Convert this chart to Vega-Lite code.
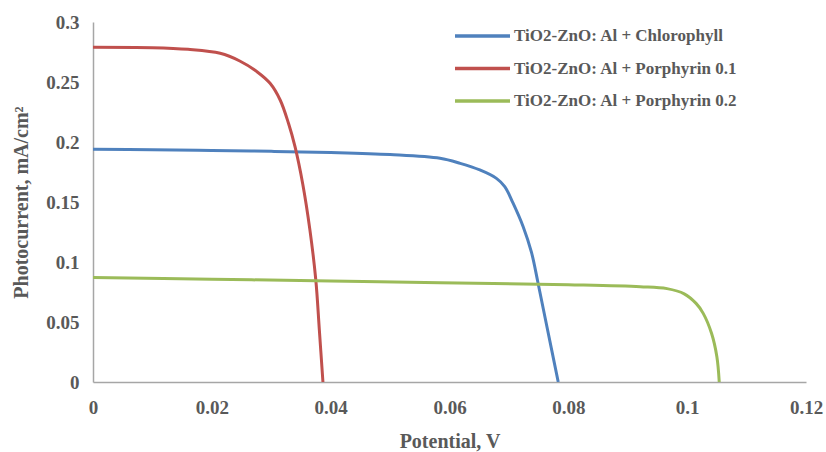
{
  "$schema": "https://vega.github.io/schema/vega-lite/v6.json",
  "width": 713,
  "height": 360,
  "autosize": "none",
  "padding": {"left": 93, "top": 22, "right": 20, "bottom": 70},
  "background": "white",
  "config": {"view": {"stroke": null}},
  "data": {
    "values": [
      {"series": "TiO2-ZnO: Al + Chlorophyll", "v": 0, "i": 0.194},
      {"series": "TiO2-ZnO: Al + Chlorophyll", "v": 0.01, "i": 0.1936},
      {"series": "TiO2-ZnO: Al + Chlorophyll", "v": 0.02, "i": 0.193},
      {"series": "TiO2-ZnO: Al + Chlorophyll", "v": 0.03, "i": 0.1922},
      {"series": "TiO2-ZnO: Al + Chlorophyll", "v": 0.04, "i": 0.1912},
      {"series": "TiO2-ZnO: Al + Chlorophyll", "v": 0.05, "i": 0.1895},
      {"series": "TiO2-ZnO: Al + Chlorophyll", "v": 0.0584, "i": 0.1864},
      {"series": "TiO2-ZnO: Al + Chlorophyll", "v": 0.0618, "i": 0.1822},
      {"series": "TiO2-ZnO: Al + Chlorophyll", "v": 0.0651, "i": 0.1767},
      {"series": "TiO2-ZnO: Al + Chlorophyll", "v": 0.0679, "i": 0.1697},
      {"series": "TiO2-ZnO: Al + Chlorophyll", "v": 0.0693, "i": 0.1628},
      {"series": "TiO2-ZnO: Al + Chlorophyll", "v": 0.0707, "i": 0.149},
      {"series": "TiO2-ZnO: Al + Chlorophyll", "v": 0.0724, "i": 0.1294},
      {"series": "TiO2-ZnO: Al + Chlorophyll", "v": 0.0738, "i": 0.108},
      {"series": "TiO2-ZnO: Al + Chlorophyll", "v": 0.0749, "i": 0.0825},
      {"series": "TiO2-ZnO: Al + Chlorophyll", "v": 0.0764, "i": 0.046},
      {"series": "TiO2-ZnO: Al + Chlorophyll", "v": 0.0783, "i": 0},
      {"series": "TiO2-ZnO: Al + Porphyrin 0.1", "v": 0, "i": 0.279},
      {"series": "TiO2-ZnO: Al + Porphyrin 0.1", "v": 0.01, "i": 0.2786},
      {"series": "TiO2-ZnO: Al + Porphyrin 0.1", "v": 0.016, "i": 0.2772},
      {"series": "TiO2-ZnO: Al + Porphyrin 0.1", "v": 0.0214, "i": 0.2739},
      {"series": "TiO2-ZnO: Al + Porphyrin 0.1", "v": 0.0247, "i": 0.2675},
      {"series": "TiO2-ZnO: Al + Porphyrin 0.1", "v": 0.0276, "i": 0.2586},
      {"series": "TiO2-ZnO: Al + Porphyrin 0.1", "v": 0.0298, "i": 0.2489},
      {"series": "TiO2-ZnO: Al + Porphyrin 0.1", "v": 0.0315, "i": 0.235},
      {"series": "TiO2-ZnO: Al + Porphyrin 0.1", "v": 0.0329, "i": 0.2156},
      {"series": "TiO2-ZnO: Al + Porphyrin 0.1", "v": 0.034, "i": 0.1961},
      {"series": "TiO2-ZnO: Al + Porphyrin 0.1", "v": 0.0353, "i": 0.165},
      {"series": "TiO2-ZnO: Al + Porphyrin 0.1", "v": 0.0365, "i": 0.127},
      {"series": "TiO2-ZnO: Al + Porphyrin 0.1", "v": 0.0375, "i": 0.085},
      {"series": "TiO2-ZnO: Al + Porphyrin 0.1", "v": 0.0381, "i": 0.043},
      {"series": "TiO2-ZnO: Al + Porphyrin 0.1", "v": 0.0387, "i": 0},
      {"series": "TiO2-ZnO: Al + Porphyrin 0.2", "v": 0, "i": 0.087},
      {"series": "TiO2-ZnO: Al + Porphyrin 0.2", "v": 0.02, "i": 0.0856},
      {"series": "TiO2-ZnO: Al + Porphyrin 0.2", "v": 0.04, "i": 0.0842},
      {"series": "TiO2-ZnO: Al + Porphyrin 0.2", "v": 0.0584, "i": 0.0828},
      {"series": "TiO2-ZnO: Al + Porphyrin 0.2", "v": 0.08, "i": 0.081},
      {"series": "TiO2-ZnO: Al + Porphyrin 0.2", "v": 0.0921, "i": 0.0794},
      {"series": "TiO2-ZnO: Al + Porphyrin 0.2", "v": 0.0966, "i": 0.0778},
      {"series": "TiO2-ZnO: Al + Porphyrin 0.2", "v": 0.0995, "i": 0.0735},
      {"series": "TiO2-ZnO: Al + Porphyrin 0.2", "v": 0.1015, "i": 0.0655},
      {"series": "TiO2-ZnO: Al + Porphyrin 0.2", "v": 0.1027, "i": 0.0572},
      {"series": "TiO2-ZnO: Al + Porphyrin 0.2", "v": 0.1041, "i": 0.0406},
      {"series": "TiO2-ZnO: Al + Porphyrin 0.2", "v": 0.105, "i": 0.0211},
      {"series": "TiO2-ZnO: Al + Porphyrin 0.2", "v": 0.1054, "i": 0}
    ]
  },
  "mark": {"type": "line", "interpolate": "catmull-rom", "strokeWidth": 3, "clip": true},
  "encoding": {
    "x": {
      "field": "v", "type": "quantitative",
      "scale": {"domain": [0, 0.12], "nice": false, "zero": false},
      "axis": {
        "title": "Potential, V", "values": [0, 0.02, 0.04, 0.06, 0.08, 0.1, 0.12], "format": ".2~f",
        "grid": false, "ticks": false, "domainColor": "#A6A6A6", "domainWidth": 1.5,
        "labelFont": "Liberation Serif", "labelFontWeight": "bold", "labelFontSize": 19, "labelColor": "#595959",
        "labelPadding": 16, "labelFlush": false, "labelOverlap": false,
        "titleFont": "Liberation Serif", "titleFontWeight": "bold", "titleFontSize": 20, "titleColor": "#595959",
        "titlePadding": 14
      }
    },
    "y": {
      "field": "i", "type": "quantitative",
      "scale": {"domain": [0, 0.3], "nice": false},
      "axis": {
        "title": "Photocurrent, mA/cm²", "values": [0, 0.05, 0.1, 0.15, 0.2, 0.25, 0.3], "format": ".2~f",
        "grid": false, "ticks": false, "domainColor": "#A6A6A6", "domainWidth": 1.5,
        "labelFont": "Liberation Serif", "labelFontWeight": "bold", "labelFontSize": 19, "labelColor": "#595959",
        "labelPadding": 14, "labelFlush": false, "labelOverlap": false,
        "titleFont": "Liberation Serif", "titleFontWeight": "bold", "titleFontSize": 20, "titleColor": "#595959",
        "titlePadding": 14
      }
    },
    "color": {
      "field": "series", "type": "nominal",
      "scale": {
        "domain": ["TiO2-ZnO: Al + Chlorophyll", "TiO2-ZnO: Al + Porphyrin 0.1", "TiO2-ZnO: Al + Porphyrin 0.2"],
        "range": ["#4F81BD", "#C0504D", "#9BBB59"]
      },
      "legend": {
        "title": null, "orient": "none", "legendX": 360, "legendY": 4,
        "symbolType": "stroke", "symbolSize": 3025, "symbolStrokeWidth": 3.5,
        "clipHeight": 20,
        "labelFont": "Liberation Serif", "labelFontWeight": "bold", "labelFontSize": 17, "labelColor": "#595959",
        "labelOffset": 2, "rowPadding": 12.5, "labelLimit": 400
      }
    }
  }
}
